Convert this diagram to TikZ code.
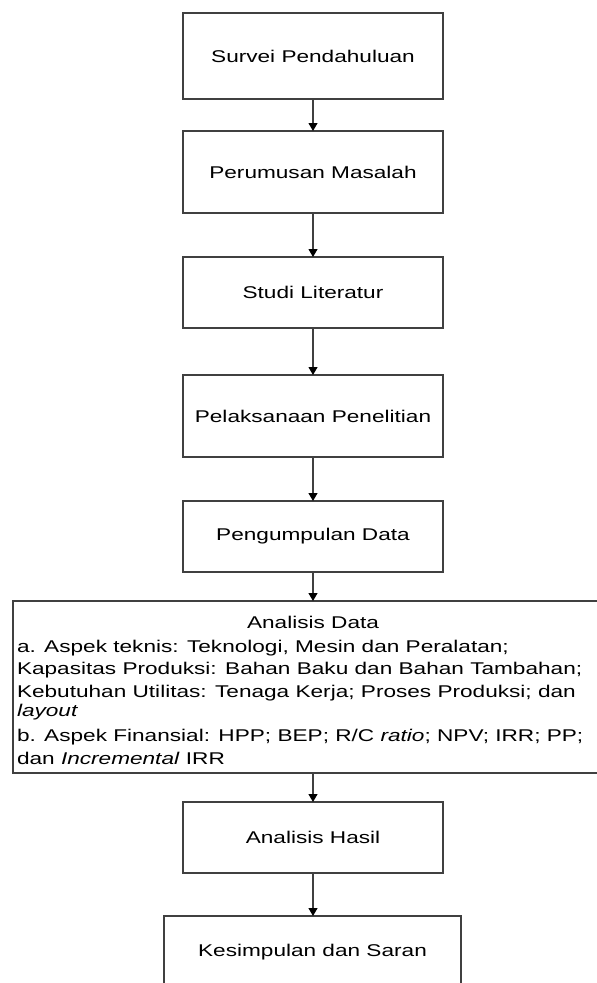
\documentclass[tikz,border=0pt]{standalone}
\usepackage{fontspec}
\setmainfont[FakeStretch=1.33]{Liberation Sans}
\usetikzlibrary{arrows.meta}
\begin{document}
\begin{tikzpicture}[x=1pt,y=-1pt,
  box/.style={draw=black!75, line width=1.1pt, inner sep=0pt, outer sep=0pt, align=center,
    font=\fontsize{17}{23}\selectfont},
  txt/.style={inner sep=0pt, outer sep=0pt, anchor=base west, font=\fontsize{17}{23}\selectfont},
  arr/.style={draw=black!75, line width=1.1pt, -{Triangle[width=9pt,length=8pt,fill=black,color=black]}}]
\useasboundingbox (0,0) rectangle (597,983);
\clip (0,0) rectangle (597,983);
\node[box, minimum width=260pt, minimum height=86pt] (b1) at (313,56) {Survei Pendahuluan};
\node[box, minimum width=260pt, minimum height=82pt] (b2) at (313,172) {Perumusan Masalah};
\node[box, minimum width=260pt, minimum height=71pt] (b3) at (313,292.5) {Studi Literatur};
\node[box, minimum width=260pt, minimum height=82pt] (b4) at (313,416) {Pelaksanaan Penelitian};
\node[box, minimum width=260pt, minimum height=71pt] (b5) at (313,536.5) {Pengumpulan Data};
\node[box, minimum width=600pt, minimum height=172pt] (b6) at (313,687) {};
\node[txt, anchor=base] (t0) at (313,628) {Analisis Data};
\node[txt] (t1) at (17,652) {a. Aspek teknis: Teknologi, Mesin dan Peralatan;};
\node[txt] (t2) at (17,674.5) {Kapasitas Produksi: Bahan Baku dan Bahan Tambahan;};
\node[txt] (t3) at (17,697) {Kebutuhan Utilitas: Tenaga Kerja; Proses Produksi; dan};
\node[txt] (t4) at (17,716) {\itshape layout};
\node[txt] (t5) at (17,741) {b. Aspek Finansial: HPP; BEP; R/C \textit{ratio}; NPV; IRR; PP;};
\node[txt] (t6) at (17,764) {dan \textit{Incremental} IRR};
\node[box, minimum width=260pt, minimum height=71pt] (b7) at (313,837.5) {Analisis Hasil};
\node[box, minimum width=297pt, minimum height=72pt] (b8) at (312.5,952) {Kesimpulan dan Saran};
\draw[arr] (b1) -- (b2);
\draw[arr] (b2) -- (b3);
\draw[arr] (b3) -- (b4);
\draw[arr] (b4) -- (b5);
\draw[arr] (b5) -- (b6);
\draw[arr] (b6.south -| b7) -- (b7);
\draw[arr] (b7.south) -- (b7.south |- b8.north);
\end{tikzpicture}
\end{document}
